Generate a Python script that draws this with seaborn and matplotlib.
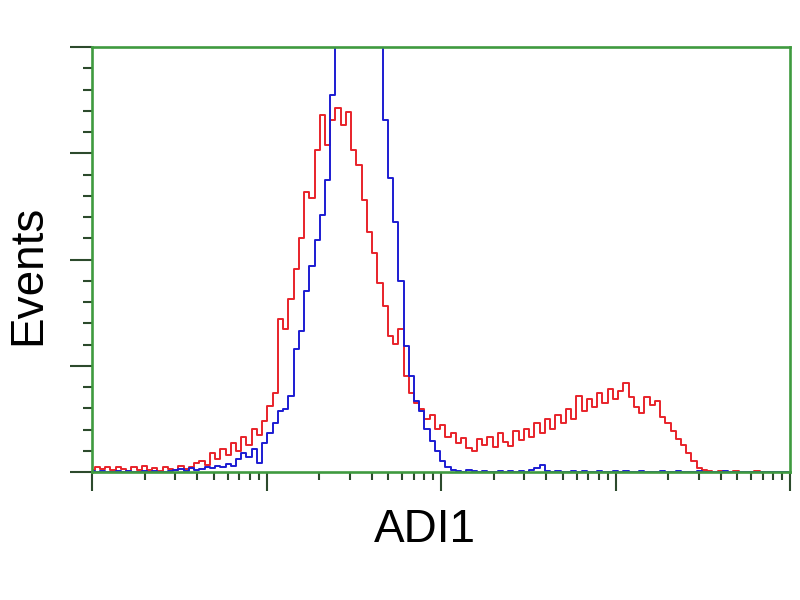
import numpy as np
import matplotlib
matplotlib.use("Agg")
import matplotlib.pyplot as plt
import matplotlib.ticker as mtick
import pandas as pd
import seaborn as sns

# log channel grid (decades of fluorescence), 0.03 decade per channel
decades = [round(0.03 * k, 2) for k in range(134)]

# events per channel (axis top = 424 events)
red_events = [
    2, 5, 3, 5, 2, 5, 3, 1, 5, 2, 6, 2, 4, 1, 5, 3, 2, 6, 3, 5,
    9, 11, 7, 19, 13, 23, 17, 29, 21, 35, 27, 43, 37, 51, 66, 79, 153, 143, 173, 203,
    233, 279, 273, 321, 356, 326, 351, 363, 346, 359, 321, 306, 271, 239, 219, 189, 166, 136, 128, 143,
    96, 79, 69, 63, 53, 57, 43, 47, 35, 39, 29, 34, 24, 21, 33, 27, 35, 25, 39, 30,
    26, 41, 32, 43, 35, 49, 39, 53, 43, 57, 49, 63, 53, 76, 61, 73, 65, 79, 69, 83,
    73, 81, 89, 75, 65, 59, 75, 67, 71, 55, 49, 41, 33, 27, 19, 11, 4, 2, 1, 0,
    1, 0, 0, 1, 0, 0, 0, 1, 0, 0, 0, 0, 0, 0,
]
blue_events = [
    1, 0, 1, 0, 0, 1, 0, 1, 0, 0, 1, 0, 1, 0, 0, 1, 2, 3, 1, 4,
    2, 3, 5, 4, 6, 5, 8, 6, 13, 19, 15, 23, 9, 29, 39, 49, 61, 63, 76, 123,
    141, 181, 206, 231, 256, 291, 376, 440, 520, 580, 620, 640, 630, 600, 540, 460, 351, 293, 249, 191,
    126, 96, 71, 61, 43, 31, 21, 11, 5, 2, 1, 0, 2, 1, 0, 1, 0, 0, 1, 0,
    1, 0, 1, 0, 2, 4, 7, 1, 0, 1, 0, 0, 1, 0, 1, 0, 0, 1, 0, 0,
    1, 0, 1, 0, 0, 1, 0, 0, 0, 1, 0, 0, 1, 0, 0, 0, 1, 0, 0, 0,
    0, 1, 0, 0, 0, 0, 0, 0, 0, 0, 0, 0, 0, 0,
]
assert len(red_events) == len(decades) and len(blue_events) == len(decades)

df = pd.DataFrame({
    "fl": 10 ** np.array(decades),
    "red": red_events,
    "blue": blue_events,
})

sns.set_style("white")
plt.rcParams["font.family"] = ["Liberation Sans", "DejaVu Sans"]

fig = plt.figure(figsize=(8, 6), dpi=100)
ax = fig.add_axes([0.115, 0.2133, 0.8725, 0.7083])

sns.lineplot(data=df, x="fl", y="red", ax=ax, color="#e8222a", lw=1.4,
             drawstyle="steps-mid", estimator=None)
sns.lineplot(data=df, x="fl", y="blue", ax=ax, color="#1c1cd2", lw=1.4,
             drawstyle="steps-mid", estimator=None)

ax.set_xscale("log")
ax.set_xlim(1, 1e4)
ax.set_ylim(0, 424)

green = "#3f9a3f"
for s in ax.spines.values():
    s.set_color(green)
    s.set_linewidth(1.9)
    s.set_visible(True)

ax.yaxis.set_major_locator(mtick.MultipleLocator(106))
ax.yaxis.set_minor_locator(mtick.MultipleLocator(21.2))
ax.xaxis.set_major_locator(mtick.LogLocator(base=10, numticks=10))
ax.xaxis.set_minor_locator(mtick.LogLocator(base=10, subs=np.arange(2, 10), numticks=20))
ax.xaxis.set_major_formatter(mtick.NullFormatter())
ax.xaxis.set_minor_formatter(mtick.NullFormatter())
ax.yaxis.set_major_formatter(mtick.NullFormatter())

tick_col = "#2c4a2c"
ax.tick_params(axis="x", which="major", direction="out", length=14, width=1.5,
               color=tick_col, bottom=True, top=False)
ax.tick_params(axis="x", which="minor", direction="out", length=6, width=1.5,
               color=tick_col, bottom=True, top=False)
ax.tick_params(axis="y", which="major", direction="out", length=16, width=1.5,
               color=tick_col, left=True, right=False)
ax.tick_params(axis="y", which="minor", direction="out", length=6.5, width=1.5,
               color=tick_col, left=True, right=False)

ax.set_xlabel("")
ax.set_ylabel("")
fig.text(425 / 800, 1 - 530 / 600, "ADI1", fontsize=33, ha="center", va="center",
         color="black")
fig.text(28 / 800, 1 - 275 / 600, "Events", fontsize=33, ha="center", va="center",
         rotation=90, color="black")

fig.savefig("out.png", dpi=100)
